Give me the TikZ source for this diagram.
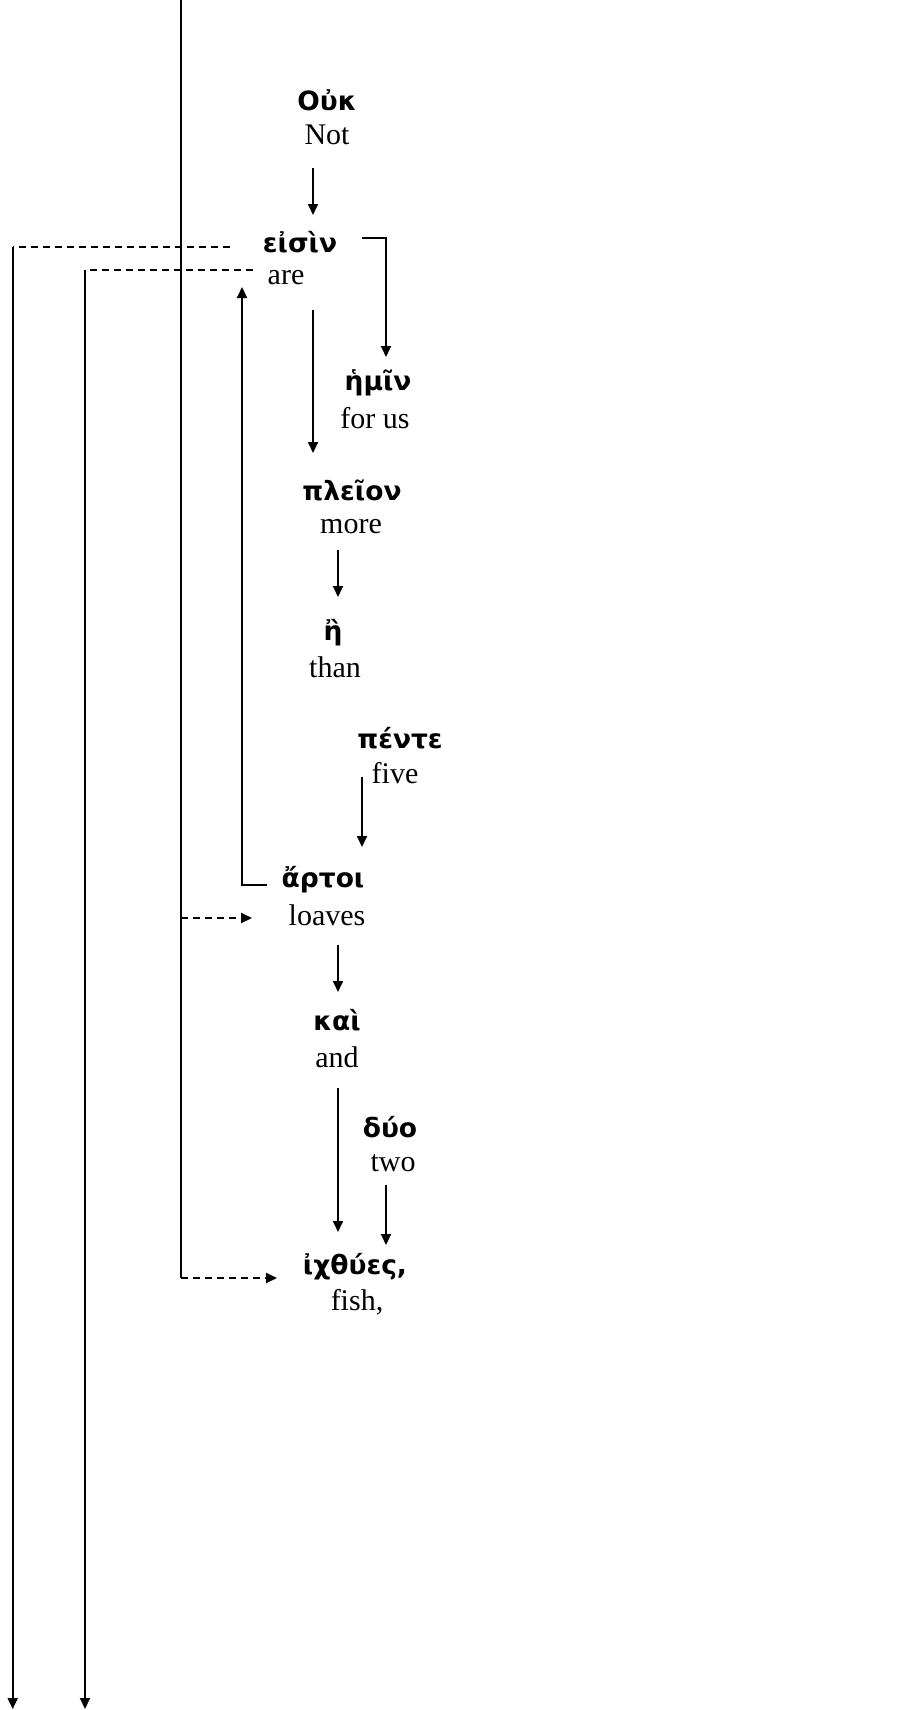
\documentclass[tikz,border=0pt]{standalone}
\usepackage{fontspec}
\setmainfont{Liberation Serif}
\newfontfamily\grk{DejaVu Sans}
\usetikzlibrary{arrows.meta}
\begin{document}
\begin{tikzpicture}[x=1pt,y=-1pt,
  gk/.style={inner sep=0pt,font=\grk\bfseries\fontsize{26.5}{30}\selectfont},
  en/.style={inner sep=0pt,font=\fontsize{30}{36}\selectfont},
  conn/.style={line width=1.9pt},
  arr/.style={conn,-{Triangle[length=11pt,width=10pt]}},
  dsh/.style={dash pattern=on 7pt off 5pt}]
\useasboundingbox (0,0) rectangle (909,1710);
% words
\node[gk] (ouk) at (327,100) {Οὐκ};
\node[en] (not) at (327,135) {Not};
\node[gk] (eisin) at (300,242) {εἰσὶν};
\node[en] (are) at (286,278) {are};
\node[gk] (hmin) at (378,383) {ἡμῖν};
\node[en] (forus) at (375,418) {for us};
\node[gk] (pleion) at (352,490) {πλεῖον};
\node[en] (more) at (351,527) {more};
\node[gk] (h) at (333,633) {ἢ};
\node[en] (than) at (335,667) {than};
\node[gk] (pente) at (400,738) {πέντε};
\node[en] (five) at (395,773) {five};
\node[gk] (artoi) at (323,880) {ἄρτοι};
\node[en] (loaves) at (327,915) {loaves};
\node[gk] (kai) at (337,1020) {καὶ};
\node[en] (and) at (337,1057) {and};
\node[gk] (duo) at (390,1127) {δύο};
\node[en] (two) at (393,1163) {two};
\node[gk] (ix) at (355,1267) {ἰχθύες,};
\node[en] (fish) at (357,1302) {fish,};
% coordinates
\coordinate (a1) at (313,168); \coordinate (a2) at (313,215);
\coordinate (b1) at (362,238); \coordinate (b2) at (386,357);
\coordinate (c1) at (313,310); \coordinate (c2) at (313,453);
\coordinate (d1) at (338,550); \coordinate (d2) at (338,597);
\coordinate (e1) at (362,777); \coordinate (e2) at (362,847);
\coordinate (f1) at (267,885); \coordinate (f2) at (242,287);
\coordinate (g1) at (338,945); \coordinate (g2) at (338,992);
\coordinate (h1) at (338,1088); \coordinate (h2) at (338,1232);
\coordinate (i1) at (386,1185); \coordinate (i2) at (386,1245);
\coordinate (j1) at (230,247); \coordinate (j2) at (12.7,247); \coordinate (j3) at (12.7,1709);
\coordinate (k1) at (253,270); \coordinate (k2) at (85,270); \coordinate (k3) at (85,1709);
\coordinate (m0) at (181,0); \coordinate (m1) at (181,918); \coordinate (m2) at (181,1278);
\coordinate (n1) at (252,918); \coordinate (n2) at (277,1278);
% connectors
\draw[arr] (a1) -- (a2);
\draw[arr] (b1) -| (b2);
\draw[arr] (c1) -- (c2);
\draw[arr] (d1) -- (d2);
\draw[arr] (e1) -- (e2);
\draw[arr] (f1) -| (f2);
\draw[arr] (g1) -- (g2);
\draw[arr] (h1) -- (h2);
\draw[arr] (i1) -- (i2);
\draw[conn,dsh] (j1) -- (j2);
\draw[arr] (j2) -- (j3);
\draw[conn,dsh] (k1) -- (k2);
\draw[arr] (k2) -- (k3);
\draw[conn] (m0) -- (m2);
\draw[arr,dsh] (m1) -- (n1);
\draw[arr,dsh] (m2) -- (n2);
\end{tikzpicture}
\end{document}
